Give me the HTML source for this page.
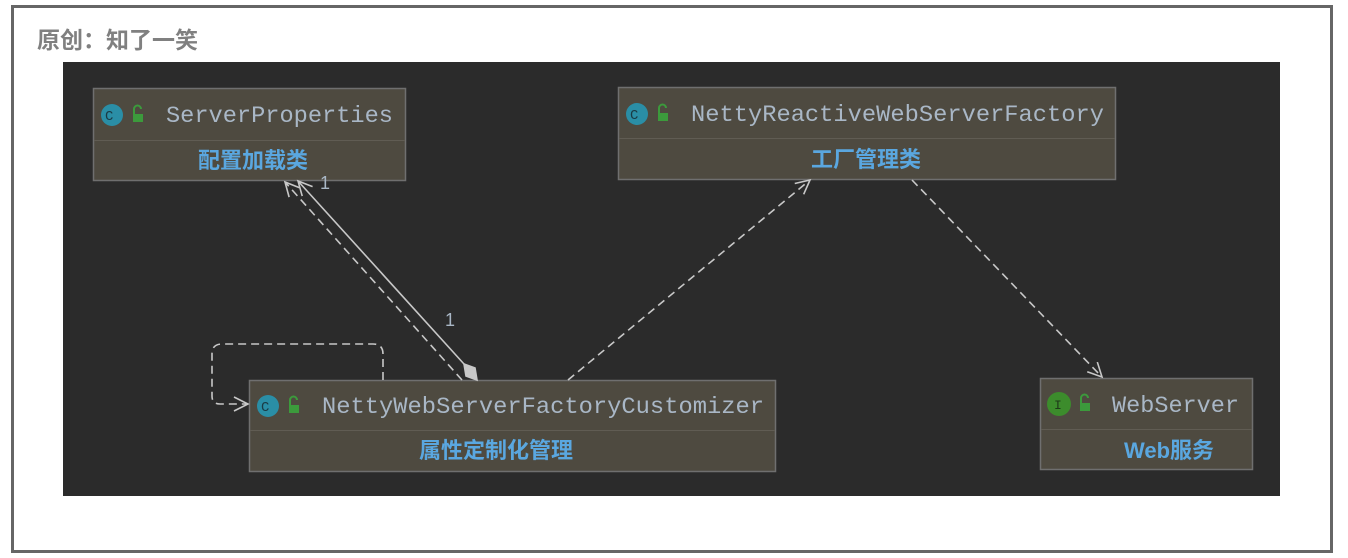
<!DOCTYPE html>
<html><head><meta charset="utf-8"><style>
html,body{margin:0;padding:0;background:#fff;width:1348px;height:558px;overflow:hidden}
</style></head><body>
<svg width="1348" height="558" xmlns="http://www.w3.org/2000/svg">
<defs>
<marker id="ar" markerWidth="20" markerHeight="20" refX="16" refY="8" orient="auto" markerUnits="userSpaceOnUse">
<path d="M2,1 L16,8 L2,15" fill="none" stroke="#c8c8c8" stroke-width="1.6"/>
</marker>
</defs>
<rect x="12.5" y="6.5" width="1319" height="545" fill="#fff" stroke="#666" stroke-width="3"/>
<text x="37" y="48" font-family="Liberation Sans,'Noto Sans CJK SC',sans-serif" font-weight="bold" font-size="23" fill="#808080">原创：知了一笑</text>
<rect x="63" y="62" width="1217" height="434" fill="#2b2b2b"/>

<g font-family="'Liberation Mono',monospace" font-size="23" fill="#a9b7c6">
<rect x="93.5" y="88.5" width="312" height="92" fill="#4e4a40" stroke="#6f6f6f" stroke-width="1.5"/>
<line x1="94" y1="140.5" x2="405" y2="140.5" stroke="#605c53"/>
<circle cx="112" cy="115" r="11" fill="#2a8ea6"/><text x="105" y="120" font-size="14" fill="#1a3a44">C</text>
<rect x="133" y="114" width="10" height="8" fill="#3c9a3c"/><path d="M134,114 v-5 a3.5,3.5 0 0 1 7,0" fill="none" stroke="#3c9a3c" stroke-width="2"/>
<text x="166" y="122" textLength="227" lengthAdjust="spacingAndGlyphs">ServerProperties</text>
<text x="253" y="168" text-anchor="middle" font-family="'Liberation Sans','Noto Sans CJK SC',sans-serif" font-weight="bold" font-size="22" fill="#5aa7e0">配置加载类</text>

<rect x="618.5" y="87.5" width="497" height="92" fill="#4e4a40" stroke="#6f6f6f" stroke-width="1.5"/>
<line x1="619" y1="138.5" x2="1115" y2="138.5" stroke="#605c53"/>
<circle cx="637" cy="114" r="11" fill="#2a8ea6"/><text x="630" y="119" font-size="14" fill="#1a3a44">C</text>
<rect x="658" y="113" width="10" height="8" fill="#3c9a3c"/><path d="M659,113 v-5 a3.5,3.5 0 0 1 7,0" fill="none" stroke="#3c9a3c" stroke-width="2"/>
<text x="691" y="121" textLength="413" lengthAdjust="spacingAndGlyphs">NettyReactiveWebServerFactory</text>
<text x="866" y="167" text-anchor="middle" font-family="'Liberation Sans','Noto Sans CJK SC',sans-serif" font-weight="bold" font-size="22" fill="#5aa7e0">工厂管理类</text>

<rect x="249.5" y="380.5" width="526" height="91" fill="#4e4a40" stroke="#6f6f6f" stroke-width="1.5"/>
<line x1="250" y1="430.5" x2="775" y2="430.5" stroke="#605c53"/>
<circle cx="268" cy="406" r="11" fill="#2a8ea6"/><text x="261" y="411" font-size="14" fill="#1a3a44">C</text>
<rect x="289" y="405" width="10" height="8" fill="#3c9a3c"/><path d="M290,405 v-5 a3.5,3.5 0 0 1 7,0" fill="none" stroke="#3c9a3c" stroke-width="2"/>
<text x="322" y="413" textLength="442" lengthAdjust="spacingAndGlyphs">NettyWebServerFactoryCustomizer</text>
<text x="496" y="458" text-anchor="middle" font-family="'Liberation Sans','Noto Sans CJK SC',sans-serif" font-weight="bold" font-size="22" fill="#5aa7e0">属性定制化管理</text>

<rect x="1040.5" y="378.5" width="212" height="91" fill="#4e4a40" stroke="#6f6f6f" stroke-width="1.5"/>
<line x1="1041" y1="429.5" x2="1252" y2="429.5" stroke="#605c53"/>
<circle cx="1059" cy="404" r="12" fill="#3c8c2c"/><text x="1054" y="409" font-size="13" fill="#1e3a18">I</text>
<rect x="1080" y="403" width="10" height="8" fill="#3c9a3c"/><path d="M1081,403 v-5 a3.5,3.5 0 0 1 7,0" fill="none" stroke="#3c9a3c" stroke-width="2"/>
<text x="1112" y="412" textLength="127" lengthAdjust="spacingAndGlyphs">WebServer</text>
<text x="1169" y="458" text-anchor="middle" font-family="'Liberation Sans','Noto Sans CJK SC',sans-serif" font-weight="bold" font-size="22" fill="#5aa7e0">Web服务</text>
</g>

<g stroke="#c8c8c8" stroke-width="1.6" fill="none">
<line x1="462" y1="380" x2="285" y2="182" stroke-dasharray="8,5" marker-end="url(#ar)"/>
<line x1="464" y1="364" x2="298" y2="181" marker-end="url(#ar)"/>
<path d="M464,364 L475,368 L477,380 L466,376 Z" fill="#c8c8c8"/>
<line x1="568" y1="380" x2="810" y2="180" stroke-dasharray="8,5" marker-end="url(#ar)"/>
<line x1="912" y1="180" x2="1102" y2="377" stroke-dasharray="8,5" marker-end="url(#ar)"/>
<path d="M383,380 V354 Q383,344 373,344 H222 Q212,344 212,354 V396 Q212,404 220,404 H248" stroke-dasharray="8,5" marker-end="url(#ar)"/>
</g>
<g font-family="'Liberation Sans',sans-serif" font-size="18" fill="#a9b7c6">
<text x="320" y="189">1</text>
<text x="445" y="326">1</text>
</g>
</svg>
</body></html>
